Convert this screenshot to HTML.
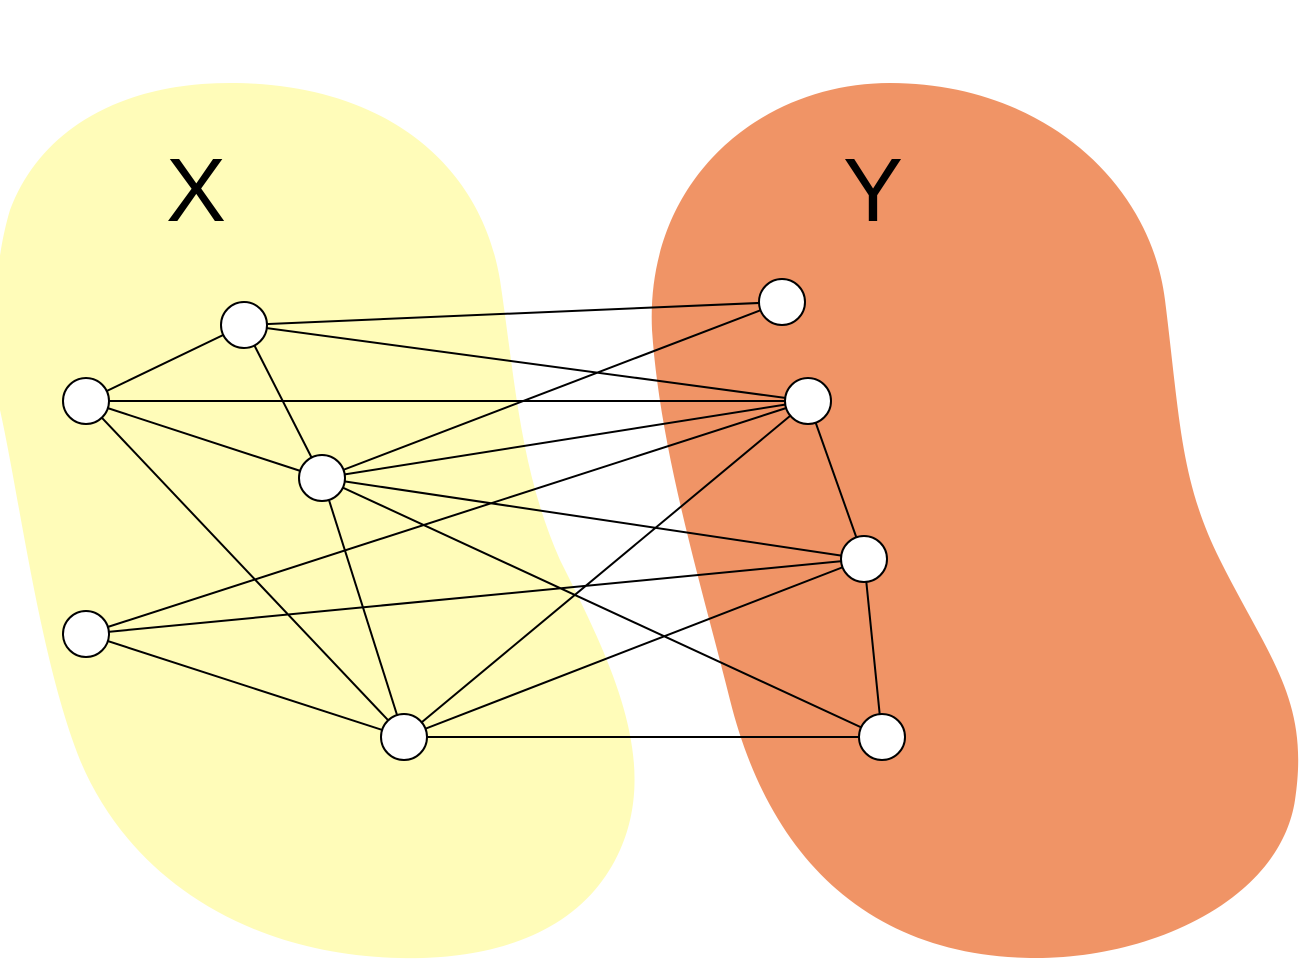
<!DOCTYPE html>
<html><head><meta charset="utf-8"><style>
html,body{margin:0;padding:0;background:#fff;width:1300px;height:975px;overflow:hidden}
</style></head><body>
<svg width="1300" height="975" viewBox="0 0 1300 975" xmlns="http://www.w3.org/2000/svg">
<path fill="#fffcb9" d="M230 83 C380 83 480 160 500 280 C515 380 520 470 560 560 C610 660 660 760 620 850 C580 940 480 960 400 958 C250 955 130 880 80 760 C40 660 20 500 0 410 C-10 330 -5 260 10 210 C40 130 120 83 230 83 Z"/>
<path fill="#f09466" d="M890 83 C1040 83 1150 180 1165 300 C1180 420 1180 480 1220 560 C1270 660 1310 700 1295 800 C1280 900 1150 960 1030 958 C870 955 770 860 730 700 C700 580 660 450 652 330 C645 180 760 83 890 83 Z"/>
<text x="196" y="221" font-family="Liberation Sans, sans-serif" font-size="90" text-anchor="middle">X</text>
<text x="873" y="221" font-family="Liberation Sans, sans-serif" font-size="90" text-anchor="middle">Y</text>
<g stroke="#000" stroke-width="2">
<line x1="86" y1="401" x2="244" y2="325"/>
<line x1="244" y1="325" x2="322" y2="478"/>
<line x1="244" y1="325" x2="782" y2="302"/>
<line x1="244" y1="325" x2="808" y2="401"/>
<line x1="86" y1="401" x2="808" y2="401"/>
<line x1="86" y1="401" x2="322" y2="478"/>
<line x1="86" y1="401" x2="404" y2="737"/>
<line x1="322" y1="478" x2="782" y2="302"/>
<line x1="322" y1="478" x2="808" y2="401"/>
<line x1="322" y1="478" x2="864" y2="559"/>
<line x1="322" y1="478" x2="882" y2="737"/>
<line x1="322" y1="478" x2="404" y2="737"/>
<line x1="86" y1="634" x2="808" y2="401"/>
<line x1="86" y1="634" x2="864" y2="559"/>
<line x1="86" y1="634" x2="404" y2="737"/>
<line x1="404" y1="737" x2="808" y2="401"/>
<line x1="404" y1="737" x2="864" y2="559"/>
<line x1="404" y1="737" x2="882" y2="737"/>
<line x1="808" y1="401" x2="864" y2="559"/>
<line x1="864" y1="559" x2="882" y2="737"/>
</g>
<g fill="#fff" stroke="#000" stroke-width="2">
<ellipse cx="244" cy="325" rx="23" ry="23"/>
<ellipse cx="86" cy="401" rx="23" ry="23"/>
<ellipse cx="322" cy="478" rx="23" ry="23"/>
<ellipse cx="86" cy="634" rx="23" ry="23"/>
<ellipse cx="404" cy="737" rx="23" ry="23"/>
<ellipse cx="782" cy="302" rx="23" ry="23"/>
<ellipse cx="808" cy="401" rx="23" ry="23"/>
<ellipse cx="864" cy="559" rx="23" ry="23"/>
<ellipse cx="882" cy="737" rx="23" ry="23"/>
</g>
</svg>
</body></html>
